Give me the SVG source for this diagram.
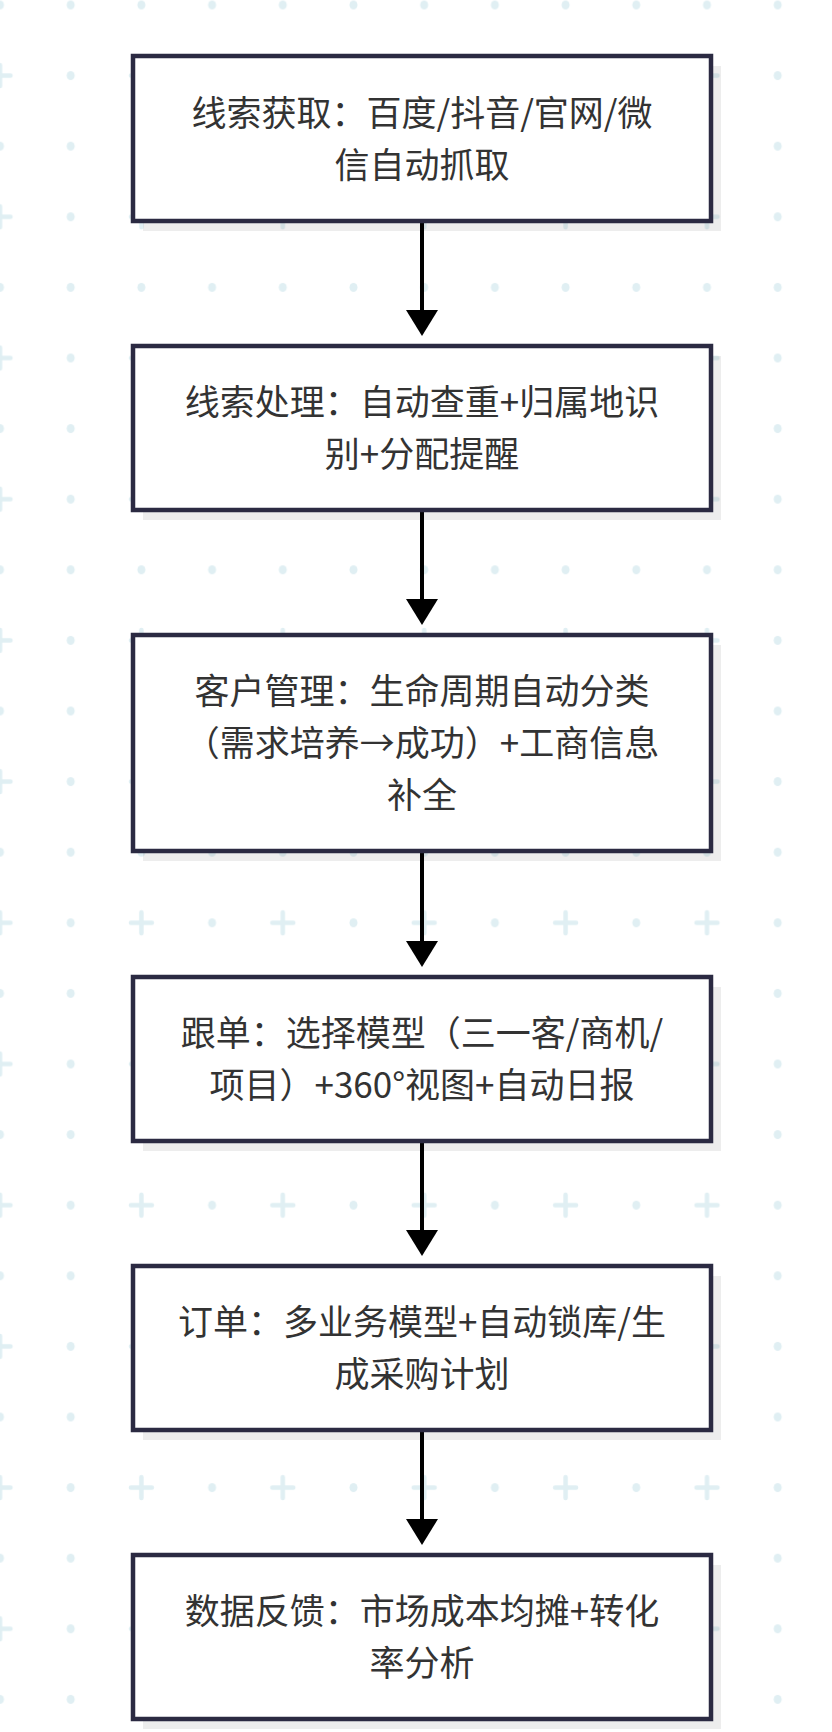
<svg xmlns="http://www.w3.org/2000/svg" width="832" height="1732" viewBox="0 0 832 1732">
  <defs>
    <pattern id="bg" patternUnits="userSpaceOnUse" x="-35.35" y="-30.3" width="141.4" height="141.2">
      <g fill="#e0eff3">
        <ellipse cx="35.35" cy="35.3" rx="4" ry="4.5"/>
        <ellipse cx="106.05" cy="35.3" rx="4" ry="4.5"/>
        <ellipse cx="106.05" cy="105.9" rx="4" ry="4.5"/>
      </g>
      <path d="M35.35 95.4 V116.4 M24.85 105.9 H45.85" stroke="#e0eff3" stroke-width="4.5" stroke-linecap="round" fill="none"/>
    </pattern>
    <style>
      .shadow { fill: #000000; fill-opacity: 0.07; }
      .box { fill: #ffffff; stroke: #2b2a42; stroke-width: 4.5; }
      .label { font-family: "Noto Sans CJK SC", "Noto Sans", sans-serif; font-size: 35px; fill: #333333; text-anchor: middle; }
      .edge { stroke: #000000; stroke-width: 4; fill: none; }
      .head { fill: #000000; }
    </style>
  </defs>
  <rect x="0" y="0" width="832" height="1732" fill="#ffffff"/>
  <rect x="0" y="0" width="832" height="1732" fill="url(#bg)"/>

  <g id="connectors">
    <line class="edge" x1="422" y1="223" x2="422" y2="314"/>
    <polygon class="head" points="406,310 438,310 422,336"/>
    <line class="edge" x1="422" y1="512" x2="422" y2="603"/>
    <polygon class="head" points="406,599 438,599 422,625"/>
    <line class="edge" x1="422" y1="853" x2="422" y2="945"/>
    <polygon class="head" points="406,941 438,941 422,967"/>
    <line class="edge" x1="422" y1="1143" x2="422" y2="1234"/>
    <polygon class="head" points="406,1230 438,1230 422,1256"/>
    <line class="edge" x1="422" y1="1432" x2="422" y2="1523"/>
    <polygon class="head" points="406,1519 438,1519 422,1545"/>
  </g>

  <g id="node1">
    <rect class="shadow" x="143" y="66" width="578" height="165"/>
    <rect class="box" x="133" y="56" width="578" height="165"/>
    <text class="label" x="422" y="126">线索获取：百度/抖音/官网/微</text>
    <text class="label" x="422" y="178">信自动抓取</text>
  </g>
  <g id="node2">
    <rect class="shadow" x="143" y="356" width="578" height="164"/>
    <rect class="box" x="133" y="346" width="578" height="164"/>
    <text class="label" x="422" y="415">线索处理：自动查重+归属地识</text>
    <text class="label" x="422" y="467">别+分配提醒</text>
  </g>
  <g id="node3">
    <rect class="shadow" x="143" y="645" width="578" height="216"/>
    <rect class="box" x="133" y="635" width="578" height="216"/>
    <text class="label" x="422" y="704">客户管理：生命周期自动分类</text>
    <text class="label" x="422" y="756">（需求培养→成功）+工商信息</text>
    <text class="label" x="422" y="808">补全</text>
  </g>
  <g id="node4">
    <rect class="shadow" x="143" y="987" width="578" height="164"/>
    <rect class="box" x="133" y="977" width="578" height="164"/>
    <text class="label" x="422" y="1046">跟单：选择模型（三一客/商机/</text>
    <text class="label" x="422" y="1098">项目）+360°视图+自动日报</text>
  </g>
  <g id="node5">
    <rect class="shadow" x="143" y="1276" width="578" height="164"/>
    <rect class="box" x="133" y="1266" width="578" height="164"/>
    <text class="label" x="422" y="1335">订单：多业务模型+自动锁库/生</text>
    <text class="label" x="422" y="1387">成采购计划</text>
  </g>
  <g id="node6">
    <rect class="shadow" x="143" y="1565" width="578" height="164"/>
    <rect class="box" x="133" y="1555" width="578" height="164"/>
    <text class="label" x="422" y="1624">数据反馈：市场成本均摊+转化</text>
    <text class="label" x="422" y="1676">率分析</text>
  </g>
</svg>
